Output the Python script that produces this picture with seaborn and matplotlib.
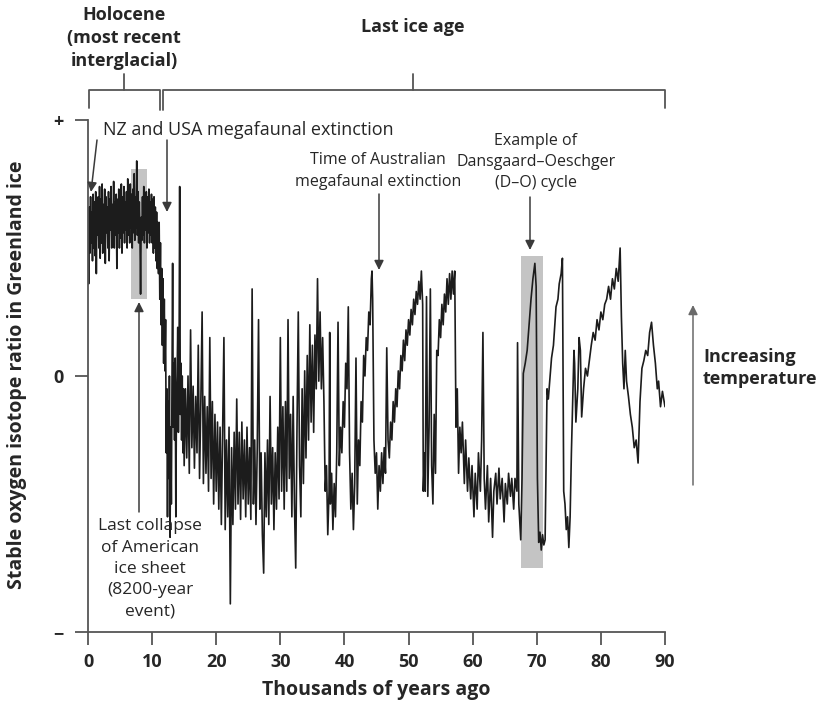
import matplotlib
matplotlib.use("Agg")
import matplotlib.pyplot as plt
from matplotlib.lines import Line2D
import pandas as pd
import seaborn as sns

# Greenland ice core oxygen isotope record
# (x = thousands of years ago, y = relative units: + = 1, 0 = 0, - = -1)
kyr = [
    # Holocene
    0.0, 0.1, 0.2, 0.3, 0.4, 0.5, 0.6, 0.7, 0.8, 0.9,
    1.0, 1.1, 1.2, 1.3, 1.4, 1.5, 1.6, 1.7, 1.8, 1.9,
    2.0, 2.1, 2.2, 2.3, 2.4, 2.5, 2.6, 2.7, 2.8, 2.9,
    3.0, 3.1, 3.2, 3.3, 3.4, 3.5, 3.6, 3.7, 3.8, 3.9,
    4.0, 4.1, 4.2, 4.3, 4.4, 4.5, 4.6, 4.7, 4.8, 4.9,
    5.0, 5.1, 5.2, 5.3, 5.4, 5.5, 5.6, 5.7, 5.8, 5.9,
    6.0, 6.1, 6.2, 6.3, 6.4, 6.5, 6.6, 6.7, 6.8, 6.9,
    7.0, 7.1, 7.2, 7.3, 7.4, 7.5, 7.6, 7.7, 7.8, 7.9,
    8.0, 8.1, 8.2, 8.3, 8.4, 8.5, 8.6, 8.7, 8.8, 8.9,
    9.0, 9.1, 9.2, 9.3, 9.4, 9.5, 9.6, 9.7, 9.8, 9.9,
    10.0, 10.1, 10.2, 10.3, 10.4, 10.5, 10.6, 10.7, 10.8, 10.9,
    # deglaciation
    11.0, 11.1, 11.2, 11.3, 11.4, 11.5, 11.6, 11.7, 11.8, 11.9,
    12.0, 12.1, 12.2, 12.3, 12.4, 12.5, 12.6, 12.7, 12.8, 12.9,
    13.0, 13.1, 13.2, 13.3, 13.4, 13.5, 13.6, 13.7, 13.8, 13.9,
    14.0, 14.1, 14.2, 14.3, 14.4, 14.5, 14.6, 14.7, 14.8, 14.9, 15.0,
    # glacial maximum
    15.2, 15.4, 15.6, 15.8, 16.0, 16.2, 16.4, 16.6, 16.8, 17.0,
    17.2, 17.4, 17.6, 17.8, 18.0, 18.2, 18.4, 18.6, 18.8, 19.0,
    19.2, 19.4, 19.6, 19.8, 20.0, 20.2, 20.4, 20.6, 20.8, 21.0,
    21.2, 21.4, 21.6, 21.8, 22.0, 22.2, 22.4, 22.6, 22.8, 23.0,
    23.2, 23.4, 23.6, 23.8, 24.0, 24.2, 24.4, 24.6, 24.8, 25.0,
    25.2, 25.4, 25.6, 25.8, 26.0, 26.2, 26.4, 26.6, 26.8, 27.0,
    27.2, 27.4, 27.6, 27.8, 28.0, 28.2, 28.4, 28.6, 28.8, 29.0,
    29.2, 29.4, 29.6, 29.8, 30.0, 30.2, 30.4, 30.6, 30.8, 31.0,
    31.2, 31.4, 31.6, 31.8, 32.0, 32.2, 32.4, 32.6, 32.8, 33.0,
    33.2, 33.4, 33.6, 33.8, 34.0, 34.2, 34.4, 34.6, 34.8, 35.0,
    35.2, 35.4, 35.6, 35.8, 36.0, 36.2, 36.4,
    # D-O cycles 37-57 ka
    36.6, 36.8, 37.0, 37.2, 37.4, 37.6, 37.7, 37.8, 38.0, 38.2,
    38.4, 38.6, 38.8, 39.0, 39.2, 39.4, 39.6, 39.8, 40.0, 40.2,
    40.4, 40.6, 40.8, 41.0, 41.2, 41.4, 41.6, 41.8, 42.0, 42.2,
    42.4, 42.6, 42.8, 43.0, 43.2, 43.4, 43.6, 43.8, 44.0, 44.2,
    44.3, 44.4, 44.6, 44.8, 45.0, 45.2, 45.4, 45.6, 45.8, 46.0,
    46.2, 46.4, 46.6, 46.8, 47.0, 47.2, 47.4, 47.6, 47.8, 48.0,
    48.2, 48.4, 48.6, 48.8, 49.0, 49.2, 49.4, 49.6, 49.8, 50.0,
    50.2, 50.4, 50.6, 50.8, 51.0, 51.2, 51.4, 51.6, 51.8, 52.0,
    52.2, 52.3, 52.5, 52.6, 52.8, 53.0, 53.2, 53.4, 53.6, 53.8,
    54.0, 54.2, 54.4, 54.6, 54.8, 55.0, 55.2, 55.4, 55.6, 55.8,
    56.0, 56.2, 56.4, 56.6, 56.8, 57.0, 57.2,
    # 57-90 ka
    57.4, 57.6, 57.8, 58.0, 58.2, 58.4, 58.7, 58.9, 59.2, 59.4, 59.7, 59.9,
    60.2, 60.4, 60.7, 60.9, 61.2, 61.4, 61.6, 61.8, 62.0, 62.3, 62.5, 62.8,
    63.1, 63.3, 63.6, 63.8, 64.1, 64.3, 64.6, 64.9, 65.1, 65.4, 65.6, 65.9,
    66.1, 66.4, 66.6, 66.9, 67.0, 67.2, 67.5, 67.7, 67.9, 68.2, 68.5, 68.8,
    69.1, 69.4, 69.7, 69.9, 70.1, 70.3, 70.5, 70.7, 70.9, 71.1, 71.3, 71.6,
    71.8, 72.3, 72.6, 73.0, 73.3, 73.5, 73.8, 74.0, 74.2, 74.4, 74.6, 74.8,
    75.0, 75.2, 75.4, 75.8, 75.9, 76.1, 76.4, 76.6, 76.8, 77.0, 77.3, 77.6,
    77.9, 78.2, 78.5, 78.8, 79.1, 79.4, 79.7, 80.0, 80.3, 80.6, 80.9, 81.2,
    81.5, 81.8, 82.1, 82.4, 82.7, 83.0, 83.2, 83.4, 83.6, 83.8, 84.0, 84.3,
    84.6, 84.9, 85.2, 85.5, 85.8, 86.1, 86.4, 86.7, 87.0, 87.3, 87.6, 87.9,
    88.2, 88.5, 88.8, 89.0, 89.3, 89.6, 90.0,
]
d18o = [
    # Holocene
    0.62, 0.36, 0.66, 0.48, 0.70, 0.52, 0.64, 0.45, 0.71, 0.50,
    0.68, 0.47, 0.72, 0.40, 0.66, 0.55, 0.70, 0.50, 0.74, 0.46,
    0.69, 0.52, 0.75, 0.48, 0.67, 0.55, 0.73, 0.44, 0.70, 0.56,
    0.66, 0.50, 0.72, 0.45, 0.69, 0.57, 0.74, 0.50, 0.67, 0.53,
    0.76, 0.50, 0.68, 0.55, 0.71, 0.42, 0.69, 0.56, 0.73, 0.50,
    0.67, 0.54, 0.75, 0.48, 0.70, 0.56, 0.74, 0.52, 0.68, 0.57,
    0.72, 0.50, 0.77, 0.55, 0.69, 0.52, 0.75, 0.58, 0.71, 0.50,
    0.73, 0.56, 0.79, 0.53, 0.70, 0.58, 0.84, 0.55, 0.72, 0.52,
    0.68, 0.56, 0.32, 0.62, 0.53, 0.70, 0.55, 0.74, 0.52, 0.69,
    0.57, 0.72, 0.50, 0.70, 0.56, 0.73, 0.52, 0.68, 0.55, 0.71,
    0.52, 0.69, 0.48, 0.70, 0.50, 0.66, 0.45, 0.64, 0.42, 0.60,
    # deglaciation
    0.40, 0.60, 0.30, 0.52, 0.20, 0.42, 0.12, 0.38, 0.05, 0.30,
    0.02, 0.22, -0.30, -0.05, -0.55, -0.10, -0.40, 0.00, -0.63, -0.20,
    -0.50, -0.05, 0.44, -0.20, 0.05, -0.25, 0.07, -0.55, -0.10, 0.00,
    0.19, -0.22, 0.02, 0.74, -0.15, 0.05, -0.25, 0.00, -0.30, -0.05, -0.35,
    # glacial maximum
    -0.05, -0.32, 0.00, -0.38, 0.18, -0.28, -0.04, -0.36, -0.08, -0.30,
    0.12, -0.40, -0.10, 0.25, -0.42, -0.08, -0.38, -0.12, -0.45, 0.15,
    -0.40, -0.10, -0.50, -0.15, -0.45, -0.18, -0.52, -0.20, -0.58, -0.22,
    0.15, -0.60, -0.25, -0.55, -0.20, -0.89, -0.28, -0.58, -0.22, -0.52,
    -0.09, -0.50, -0.22, -0.56, -0.18, -0.48, -0.25, -0.55, -0.20, -0.50,
    -0.28, -0.56, 0.34, -0.50, -0.25, -0.58, -0.28, 0.22, -0.52, -0.30,
    -0.62, -0.77, -0.30, -0.55, -0.25, -0.58, -0.08, -0.50, -0.28, -0.60,
    -0.30, -0.52, -0.20, -0.48, 0.15, -0.45, -0.12, -0.52, -0.10, -0.45,
    0.22, -0.40, -0.15, -0.55, -0.08, -0.50, -0.75, -0.20, 0.25, -0.35,
    -0.55, -0.05, -0.42, 0.02, -0.32, 0.08, -0.25, 0.20, -0.18, 0.12,
    -0.22, 0.16, -0.05, 0.38, -0.02, 0.25, -0.05,
    # D-O cycles 37-57 ka
    0.15, -0.10, -0.45, -0.35, -0.62, -0.45, 0.17, -0.50, -0.38, -0.60,
    -0.42, -0.55, -0.30, 0.21, -0.35, -0.20, -0.30, -0.10, -0.20, 0.05,
    -0.05, 0.27, -0.30, -0.52, -0.38, -0.60, -0.42, 0.07, -0.50, -0.25,
    -0.35, -0.10, -0.18, 0.08, 0.00, 0.15, 0.10, 0.25, 0.20, 0.38,
    0.41, 0.30, -0.25, -0.38, -0.30, -0.52, -0.35, -0.45, -0.30, -0.42,
    -0.28, -0.38, 0.11, -0.25, -0.32, -0.18, -0.25, -0.10, -0.18, -0.05,
    -0.12, 0.02, -0.05, 0.08, 0.02, 0.14, 0.06, 0.18, 0.12, 0.22,
    0.16, 0.26, 0.20, 0.30, 0.24, 0.33, 0.28, 0.37, 0.30, 0.41,
    0.28, -0.45, -0.30, -0.45, 0.31, -0.47, -0.20, 0.34, -0.35, -0.50,
    -0.15, -0.38, 0.10, 0.08, 0.22, 0.15, 0.28, 0.20, 0.32, 0.25,
    0.38, 0.28, 0.40, 0.30, 0.41, 0.32, 0.41,
    # 57-90 ka
    -0.20, -0.05, -0.38, -0.20, -0.30, -0.18, -0.42, -0.25, -0.45, -0.32, -0.48, -0.35,
    -0.55, -0.38, -0.52, -0.30, -0.45, -0.25, 0.17, -0.40, -0.52, -0.35, -0.57, -0.40,
    -0.63, -0.45, -0.38, -0.50, -0.36, -0.48, -0.40, -0.57, -0.42, -0.50, -0.38, -0.47,
    -0.40, -0.52, -0.40, -0.45, 0.13, -0.50, -0.64, -0.40, 0.01, 0.05, 0.10, 0.20,
    0.30, 0.38, 0.44, 0.35, -0.40, -0.65, -0.61, -0.68, -0.62, -0.66, -0.64, -0.05,
    -0.09, 0.07, 0.12, 0.27, 0.30, 0.36, 0.40, 0.46, -0.45, -0.50, -0.60, -0.55,
    -0.67, -0.55, -0.30, 0.10, 0.05, -0.18, -0.05, 0.15, 0.10, -0.16, -0.05, 0.03,
    0.00, 0.06, 0.12, 0.17, 0.14, 0.22, 0.18, 0.25, 0.22, 0.28, 0.30, 0.35,
    0.30, 0.38, 0.34, 0.42, 0.37, 0.50, 0.23, 0.05, -0.05, 0.10, -0.02, -0.08,
    -0.15, -0.20, -0.28, -0.25, -0.34, -0.10, 0.03, 0.06, 0.10, 0.08, 0.17, 0.21,
    0.12, 0.05, -0.05, -0.02, -0.12, -0.06, -0.12,
]

# shaded boxes: (x0, x1, y0, y1)
event_8200 = (6.7, 9.2, 0.30, 0.81)
event_do = (67.5, 70.9, -0.75, 0.47)

x_ticks = [0, 10, 20, 30, 40, 50, 60, 70, 80, 90]
y_ticks = [-1, 0, 1]
y_tick_labels = ["\u2212", "0", "+"]

df = pd.DataFrame({"kyr": kyr, "d18o": d18o})

sns.set_theme(style="white")
plt.rcParams["font.family"] = ["Open Sans", "DejaVu Sans"]

W, H = 824, 714
fig = plt.figure(figsize=(W / 100, H / 100), dpi=100)
ax = fig.add_axes([88 / W, 1 - 632 / H, (665 - 88) / W, (632 - 120) / H])

for x0, x1, y0, y1 in [event_8200, event_do]:
    ax.fill_between([x0, x1], y0, y1, color="#c4c4c4", lw=0, zorder=1)

sns.lineplot(data=df, x="kyr", y="d18o", estimator=None, sort=False,
             color="#1c1c1c", lw=1.2, ax=ax, zorder=2)

ax.set_xlim(0, 90)
ax.set_ylim(-1, 1)
ax.set_xlabel("")
ax.set_ylabel("")
for s in ["top", "right"]:
    ax.spines[s].set_visible(False)
for s in ["left", "bottom"]:
    ax.spines[s].set_color("#555555")
    ax.spines[s].set_linewidth(1.3)

ax.set_xticks(x_ticks)
ax.set_xticklabels([str(t) for t in x_ticks], fontsize=13, fontweight="bold")
ax.set_yticks(y_ticks)
ax.set_yticklabels(y_tick_labels, fontsize=13, fontweight="bold")
ax.tick_params(axis="x", direction="out", length=9, width=1.3, color="#555555", pad=6)
ax.tick_params(axis="y", direction="out", length=9.5, width=1.3, color="#555555", pad=8)
ax.tick_params(left=True, bottom=True)


def P(x, y):
    # top-left pixel position -> figure pixels
    return (x, H - y)


def ftext(x, y, s, **kw):
    fig.text(x / W, 1 - y / H, s, **kw)


# axis titles
ftext(17, 375, "Stable oxygen isotope ratio in Greenland ice", rotation=90,
      ha="center", va="center", fontsize=14, fontweight="bold")
ftext(376, 690, "Thousands of years ago", ha="center", va="center",
      fontsize=14, fontweight="bold")

# period brackets
bk = dict(color="#555555", lw=1.3)
for xs, ys in [([89, 89, 160, 160], [108, 90, 90, 110]),
               ([124, 124], [74, 90]),
               ([163, 163, 665, 665], [110, 90, 90, 108]),
               ([413, 413], [74, 90])]:
    fig.add_artist(Line2D([x / W for x in xs], [1 - y / H for y in ys], **bk))

ftext(124, 38, "Holocene\n(most recent\ninterglacial)", ha="center", va="center",
      fontsize=13, fontweight="bold", linespacing=1.35)
ftext(413, 27, "Last ice age", ha="center", va="center", fontsize=13, fontweight="bold")

# annotations
ftext(103, 130, "NZ and USA megafaunal extinction", ha="left", va="center", fontsize=13)
ftext(378, 171, "Time of Australian\nmegafaunal extinction", ha="center", va="center",
      fontsize=11.5, linespacing=1.45)
ftext(536, 162, "Example of\nDansgaard\u2013Oeschger\n(D\u2013O) cycle", ha="center",
      va="center", fontsize=11.5, linespacing=1.45)
ftext(150, 569, "Last collapse\nof American\nice sheet\n(8200-year\nevent)", ha="center",
      va="center", fontsize=12.5, linespacing=1.45)
ftext(703, 368, "Increasing\ntemperature", ha="left", va="center", fontsize=13,
      fontweight="bold", linespacing=1.3)

arr = dict(arrowstyle="-|>", color="#3a3a3a", lw=1.1, mutation_scale=14,
           shrinkA=0, shrinkB=0)
for tail, tip in [((97, 140), (91, 192)),
                  ((167, 140), (167, 212)),
                  ((379, 194), (379, 270)),
                  ((530, 197), (530, 250)),
                  ((139, 512), (139, 302))]:
    ax.annotate("", xy=P(*tip), xycoords="figure pixels", xytext=P(*tail),
                textcoords="figure pixels", arrowprops=arr, annotation_clip=False)

arr2 = dict(arr, color="#6a6a6a")
ax.annotate("", xy=P(693, 305), xycoords="figure pixels", xytext=P(693, 485),
            textcoords="figure pixels", arrowprops=arr2, annotation_clip=False)

fig.savefig("out.png", dpi=100, facecolor="white")
